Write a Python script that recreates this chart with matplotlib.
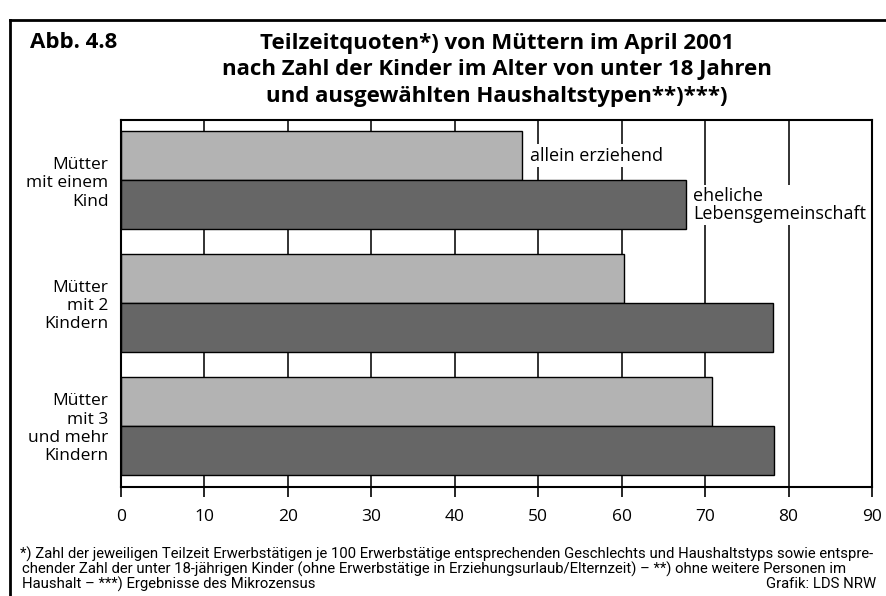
import matplotlib
matplotlib.use("Agg")
import matplotlib.pyplot as plt
from matplotlib import font_manager
from matplotlib.lines import Line2D

categories = ["Mütter\nmit einem\nKind", "Mütter\nmit 2\nKindern", "Mütter\nmit 3\nund mehr\nKindern"]
allein = [48.1, 60.3, 70.8]
ehelich = [67.7, 78.1, 78.3]
series_labels = ["allein erziehend", "eheliche\nLebensgemeinschaft"]
xticks = [0, 10, 20, 30, 40, 50, 60, 70, 80, 90]
foot_lines = [
    "*) Zahl der jeweiligen Teilzeit Erwerbstätigen je 100 Erwerbstätige entsprechenden Geschlechts und Haushaltstyps sowie entspre-",
    "chender Zahl der unter 18-jährigen Kinder (ohne Erwerbstätige in Erziehungsurlaub/Elternzeit) – **) ohne weitere Personen im",
    "Haushalt – ***) Ergebnisse des Mikrozensus",
]

names = {f.name for f in font_manager.fontManager.ttflist}
body = "Open Sans" if "Open Sans" in names else "DejaVu Sans"
narrow = "Roboto" if "Roboto" in names else "DejaVu Sans"

fig = plt.figure(figsize=(8.86, 5.96), dpi=100)
ax = fig.add_axes([121/886, (596-487)/596, (872-121)/886, (487-120)/596])

h = 0.4
ys = list(range(len(categories)))
ax.barh([y - h/2 for y in ys], allein, height=h, color="#b3b3b3", edgecolor="black", linewidth=1, zorder=2)
ax.barh([y + h/2 for y in ys], ehelich, height=h, color="#666666", edgecolor="black", linewidth=1, zorder=2)

ax.set_xlim(0, 90)
ax.set_ylim(2.5, -0.49)
for x in xticks[1:-1]:
    ax.axvline(x, color="#222222", lw=1.3, zorder=1)
ax.set_xticks(xticks)
ax.set_xticklabels([str(t) for t in xticks], family=body, fontsize=12.5)
ax.tick_params(axis="x", direction="out", length=7, width=1.2, pad=9)
ax.set_yticks(ys)
ax.set_yticklabels(categories, family=body, fontsize=12.5, linespacing=1.2)
ax.tick_params(axis="y", length=0, pad=9)
for s in ax.spines.values():
    s.set_linewidth(1.5)

ax.text(allein[0] + 0.9, ys[0] - h/2, series_labels[0], family=body, fontsize=13,
        va="center", ha="left", zorder=3,
        bbox=dict(facecolor="white", edgecolor="none", pad=1.5))
ax.text(ehelich[0] + 0.9, ys[0] + h/2, series_labels[1], family=body, fontsize=13,
        va="center", ha="left", zorder=3, linespacing=1.0,
        bbox=dict(facecolor="white", edgecolor="none", pad=1.5))

fig.text(30/886, 1 - 43/596, "Abb. 4.8", family=body, fontsize=16, fontweight="bold", va="center", ha="left")
fig.text(497/886, 1 - 70/596,
         "Teilzeitquoten*) von Müttern im April 2001\nnach Zahl der Kinder im Alter von unter 18 Jahren\nund ausgewählten Haushaltstypen**)***)",
         family=body, fontsize=16, fontweight="bold", va="center", ha="center", linespacing=1.33)

foot_y = [554, 569, 584]
foot_x = [20, 22, 22]
for txt, yy, xx in zip(foot_lines, foot_y, foot_x):
    fig.text(xx/886, 1 - yy/596, txt, family=narrow, fontsize=10.7, va="center", ha="left")
fig.text(876/886, 1 - 584/596, "Grafik: LDS NRW", family=narrow, fontsize=10.7, va="center", ha="right")

fig.add_artist(Line2D([10/886, 10/886], [0, 1 - 20/596], transform=fig.transFigure, color="black", lw=2))
fig.add_artist(Line2D([10/886, 1], [1 - 20/596, 1 - 20/596], transform=fig.transFigure, color="black", lw=2))

fig.savefig("out.png", dpi=100)
